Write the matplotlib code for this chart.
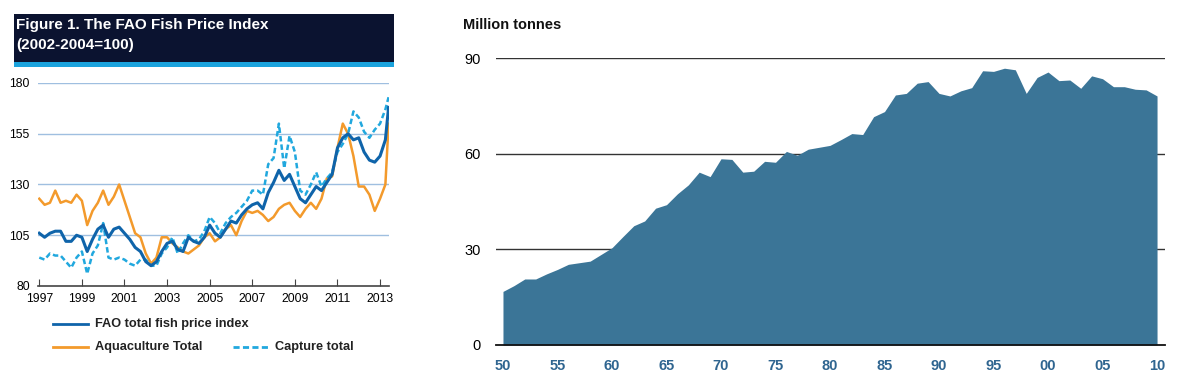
import numpy as np
import matplotlib
matplotlib.use('Agg')
import matplotlib.pyplot as plt
from matplotlib.lines import Line2D
from matplotlib.patches import Rectangle

plt.rcParams['font.family'] = ['Liberation Sans Narrow', 'Liberation Sans', 'DejaVu Sans']

# --- left panel: FAO fish price index, quarterly readings (2002-2004=100)
price_start = 1997.0
price_end = 2013.4
total_index = [106, 104, 106, 107,
               107, 102, 102, 105,
               104, 97, 103, 108,
               110, 104, 108, 109,
               106, 103, 99, 97,
               92, 90, 92, 97,
               101, 102, 98, 97,
               104, 102, 101, 104,
               110, 106, 104, 108,
               112, 111, 115, 118,
               120, 121, 118, 126,
               131, 137, 132, 135,
               129, 123, 121, 125,
               129, 127, 131, 135,
               148, 153, 155, 152,
               153, 146, 142, 141,
               144, 152, 168]
aquaculture = [123, 120, 121, 127,
               121, 122, 121, 125,
               122, 110, 117, 121,
               127, 120, 124, 130,
               122, 114, 106, 104,
               96, 91, 94, 104,
               104, 101, 99, 97,
               96, 98, 100, 104,
               106, 102, 104, 108,
               110, 105, 112, 117,
               116, 117, 115, 112,
               114, 118, 120, 121,
               117, 114, 118, 121,
               118, 123, 133, 134,
               148, 160, 155, 144,
               129, 129, 125, 117,
               123, 130, 160]
capture = [94, 93, 96, 95,
           95, 92, 89, 94,
           97, 86, 96, 100,
           111, 94, 93, 94,
           93, 91, 90, 93,
           93, 90, 90, 96,
           99, 104, 96, 101,
           105, 102, 103, 107,
           114, 111, 106, 111,
           114, 116, 119, 122,
           127, 127, 125, 140,
           143, 160, 138, 154,
           146, 127, 125, 130,
           136, 129, 133, 136,
           146, 150, 155, 166,
           163, 156, 153, 157,
           160, 167, 173]

# --- right panel: production, million tonnes
years = list(range(1950, 2011))
tonnes = [16.8, 18.6, 20.7, 20.7, 22.3, 23.7, 25.3, 25.8, 26.3, 28.4,
          30.5, 34.0, 37.4, 38.9, 42.9, 44.0, 47.4, 50.2, 54.2, 52.8,
          58.4, 58.2, 54.2, 54.5, 57.6, 57.3, 60.7, 59.5, 61.4, 62.0,
          62.6, 64.4, 66.3, 66.0, 71.6, 73.2, 78.4, 78.9, 82.1, 82.6,
          78.9, 78.1, 79.7, 80.7, 86.0, 85.8, 86.8, 86.3, 78.9, 83.9,
          85.6, 82.9, 83.1, 80.5, 84.4, 83.5, 81.0, 81.0, 80.2, 80.0,
          78.1]

n = len(total_index)
dates = np.append(price_start + 0.25 * np.arange(n - 1), price_end)

fig = plt.figure(figsize=(12, 3.84), dpi=100)

# header box
fig.add_artist(Rectangle((14 / 1200, 1 - 62 / 384), 380 / 1200, 48 / 384,
                         transform=fig.transFigure, color='#0b1330', lw=0))
fig.add_artist(Rectangle((14 / 1200, 1 - 67 / 384), 380 / 1200, 5 / 384,
                         transform=fig.transFigure, color='#1ba3dd', lw=0))
fig.text(16 / 1200, 1 - 25 / 384, 'Figure 1. The FAO Fish Price Index', color='white',
         fontsize=11, fontweight='bold', va='center')
fig.text(16 / 1200, 1 - 45 / 384, '(2002-2004=100)', color='white',
         fontsize=11, fontweight='bold', va='center')

ax1 = fig.add_axes([38 / 1200, 1 - 286 / 384, 351 / 1200, 203 / 384])
c_total, c_aqua, c_capt = '#0f64aa', '#f39a2c', '#21a8de'
ax1.plot(dates, aquaculture, color=c_aqua, lw=1.8, zorder=3)
ax1.plot(dates, capture, color=c_capt, lw=1.8, ls=(0, (2.2, 1.2)), zorder=3)
ax1.plot(dates, total_index, color=c_total, lw=2.2, zorder=4)
ax1.set_xlim(1996.94, 2013.42)
ax1.set_ylim(80, 180)
ax1.set_yticks([80, 105, 130, 155, 180])
ax1.set_xticks(range(1997, 2014, 2))
for v in [105, 130, 155, 180]:
    ax1.axhline(v, color='#9fbfe0', lw=1, zorder=1)
for s in ['top', 'right', 'left']:
    ax1.spines[s].set_visible(False)
ax1.spines['bottom'].set_color('#444444')
ax1.spines['bottom'].set_linewidth(1.2)
ax1.tick_params(axis='y', length=0, labelsize=8.8, pad=6)
ax1.tick_params(axis='x', direction='in', length=5, color='#444444', labelsize=8.8, pad=5)

# legend drawn by hand to match the two-row layout
def legend_item(x0, y, color, ls, label):
    fig.add_artist(Line2D([x0 / 1200, (x0 + 35) / 1200], [1 - y / 384] * 2,
                          transform=fig.transFigure, color=color, lw=2, ls=ls))
    fig.text((x0 + 42) / 1200, 1 - y / 384, label, fontsize=9.2, fontweight='bold',
             va='center', color='#222222')

legend_item(53, 324, c_total, '-', 'FAO total fish price index')
legend_item(53, 347, c_aqua, '-', 'Aquaculture Total')
legend_item(233, 347, c_capt, (0, (2.2, 1.2)), 'Capture total')

# right panel
ax2 = fig.add_axes([496 / 1200, 1 - 345 / 384, 669 / 1200, 287 / 384])
ax2.fill_between(years, tonnes, 0, color='#3b7597', lw=0, zorder=3)
ax2.set_xlim(1949.36, 2010.73)
ax2.set_ylim(0, 90)
for v in [30, 60, 90]:
    ax2.axhline(v, color='#333333', lw=1, zorder=1)
ax2.set_yticks([0, 30, 60, 90])
ax2.set_xticks(range(1950, 2011, 5))
ax2.set_xticklabels(['%02d' % (y % 100) for y in range(1950, 2011, 5)])
for s in ['top', 'right', 'left']:
    ax2.spines[s].set_visible(False)
ax2.spines['bottom'].set_color('#111111')
ax2.spines['bottom'].set_linewidth(1.3)
ax2.spines['bottom'].set_zorder(4)
ax2.tick_params(axis='y', length=0, labelsize=10.5, pad=11)
ax2.tick_params(axis='x', length=0, labelsize=10.5, pad=10, labelcolor='#2f6590')
for t in ax2.get_xticklabels():
    t.set_fontweight('bold')
fig.text(463 / 1200, 1 - 25 / 384, 'Million tonnes', fontsize=10.5, fontweight='bold',
         va='center', color='#111111')

fig.savefig('out.png', dpi=100)
